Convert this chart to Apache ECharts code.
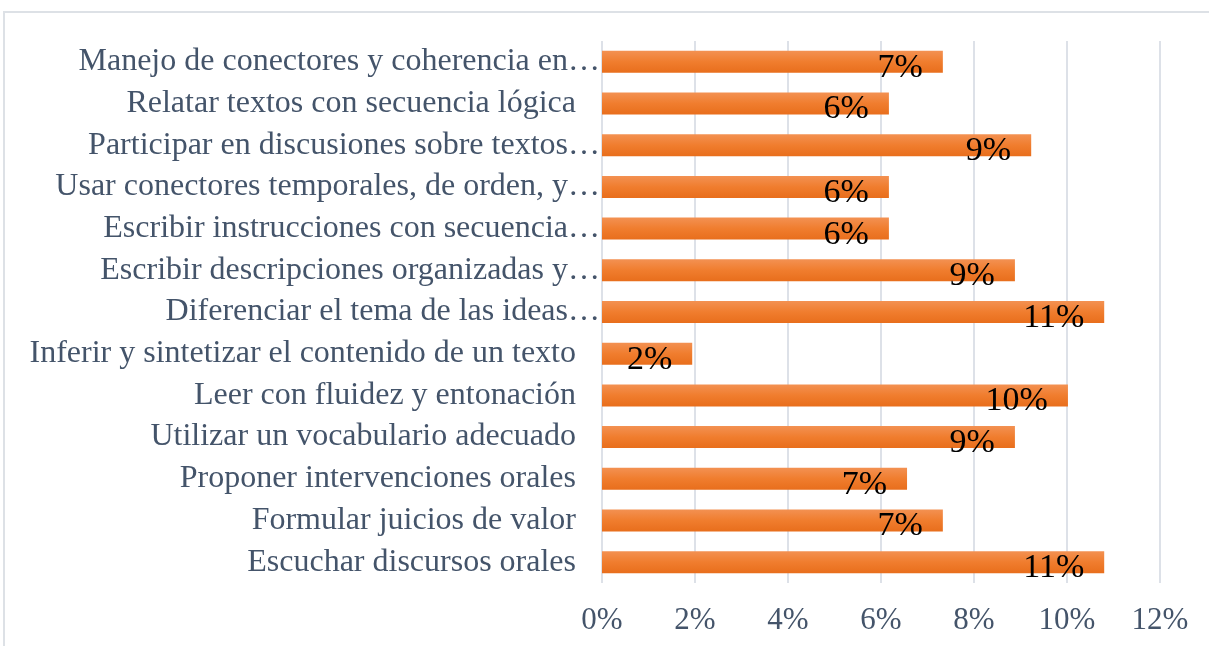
<!DOCTYPE html>
<html>
<head>
<meta charset="utf-8">
<script src="https://cdn.jsdelivr.net/npm/echarts@6/dist/echarts.min.js"></script>
<style>
  html, body { margin: 0; padding: 0; background: #fff; }
  #chart { width: 1209px; height: 646px; }
</style>
</head>
<body>
<div id="chart"></div>
<script>
// categorias, de arriba hacia abajo
var categorias = [
  'Manejo de conectores y coherencia en…',
  'Relatar textos con secuencia lógica',
  'Participar en discusiones sobre textos…',
  'Usar conectores temporales, de orden, y…',
  'Escribir instrucciones con secuencia…',
  'Escribir descripciones organizadas y…',
  'Diferenciar el tema de las ideas…',
  'Inferir y sintetizar el contenido de un texto',
  'Leer con fluidez y entonación',
  'Utilizar un vocabulario adecuado',
  'Proponer intervenciones orales',
  'Formular juicios de valor',
  'Escuchar discursos orales'
];
// porcentajes (%)
var valores = [7.33, 6.17, 9.23, 6.17, 6.17, 8.88, 10.8, 1.94, 10.02, 8.88, 6.56, 7.33, 10.8];
var ticks = [0, 2, 4, 6, 8, 10, 12];

var FONT = '"Liberation Serif", "Times New Roman", serif';
var chart = echarts.init(document.getElementById('chart'));

chart.setOption({
  animation: false,
  backgroundColor: '#fff',
  graphic: [{
    type: 'rect',
    shape: { x: 4, y: 12, width: 1240, height: 700 },
    style: { fill: 'none', stroke: '#dde1e6', lineWidth: 2 },
    silent: true
  }],
  grid: { left: 602, right: 49, top: 41, bottom: 63, containLabel: false },
  xAxis: {
    type: 'value',
    min: ticks[0],
    max: ticks[ticks.length - 1],
    interval: 2,
    axisLine: { show: false },
    axisTick: { show: false },
    splitLine: { lineStyle: { color: '#dde1e8', width: 2 } },
    axisLabel: {
      color: '#44546a',
      fontFamily: FONT,
      fontSize: 31,
      margin: 22,
      formatter: function (v) { return v + '%'; }
    }
  },
  yAxis: {
    type: 'category',
    inverse: true,
    data: categorias,
    axisLine: { show: false },
    axisTick: { show: false },
    axisLabel: {
      color: '#44546a',
      fontFamily: FONT,
      fontSize: 32,
      margin: 2,
      formatter: function (v) {
        return v.slice(-1) === '…' ? v : v + '{pad|}';
      },
      rich: { pad: { width: 24 } }
    }
  },
  series: [{
    type: 'bar',
    data: valores,
    barWidth: 22,
    itemStyle: {
      color: new echarts.graphic.LinearGradient(0, 0, 0, 1, [
        { offset: 0, color: '#f39152' },
        { offset: 0.5, color: '#f07d2e' },
        { offset: 1, color: '#e86e1c' }
      ])
    },
    label: {
      show: true,
      position: 'insideRight',
      distance: 20,
      offset: [0, 6],
      color: '#000',
      fontFamily: FONT,
      fontSize: 34,
      formatter: function (p) { return Math.round(p.value) + '%'; }
    }
  }]
});
</script>
</body>
</html>
